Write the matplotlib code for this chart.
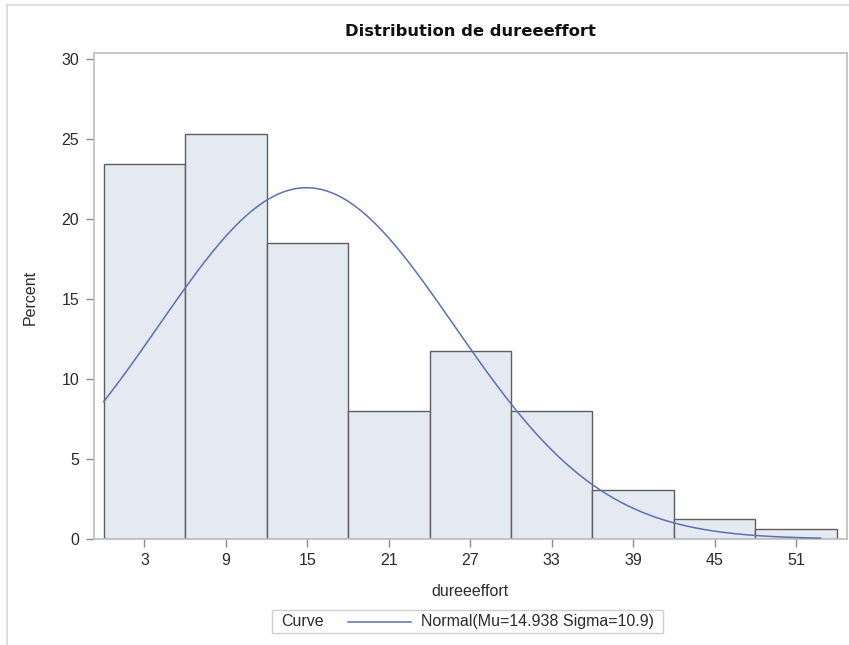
import numpy as np
import matplotlib
matplotlib.use("Agg")
import matplotlib.pyplot as plt
from matplotlib.patches import Rectangle
from matplotlib.lines import Line2D

# Histogram of dureeeffort (percent of observations per 6-unit bin)
bin_midpoints = [3, 9, 15, 21, 27, 33, 39, 45, 51]
percent = [23.46, 25.31, 18.52, 8.02, 11.73, 8.02, 3.09, 1.23, 0.62]
bin_width = 6

# Fitted normal curve parameters
mu = 14.938
sigma = 10.9
curve_start, curve_end = 0.0, 52.8

title = "Distribution de dureeeffort"
xlabel = "dureeeffort"
ylabel = "Percent"
yticks = [0, 5, 10, 15, 20, 25, 30]

plt.rcParams['font.family'] = ['Liberation Sans', 'DejaVu Sans']

W, H = 849, 645
fig = plt.figure(figsize=(W / 100, H / 100), dpi=100)

ax = fig.add_axes([93.5 / W, 1 - 539 / H, (847 - 93.5) / W, (539 - 53) / H])

bar_fill = "#E5E9F2"
bar_edge = "#5F5F5F"
curve_col = "#5A71B3"
frame_col = "#BDBDBD"
tick_col = "#8C8C8C"
text_col = "#2B2B2B"
fs = 11.5

ax.bar(bin_midpoints, percent, width=bin_width, color=bar_fill,
       edgecolor=bar_edge, linewidth=1.0, zorder=2)

xs = np.linspace(curve_start, curve_end, 300)
ys = 100 * bin_width * np.exp(-0.5 * ((xs - mu) / sigma) ** 2) / (sigma * np.sqrt(2 * np.pi))
ax.plot(xs, ys, color=curve_col, linewidth=1.1, zorder=3)

ax.set_xlim(-0.75, 54.75)
ax.set_ylim(0, 30.38)
ax.set_xticks(bin_midpoints)
ax.set_yticks(yticks)
ax.tick_params(axis="both", direction="out", length=5.8, width=1, color=tick_col,
               labelsize=fs, labelcolor=text_col, pad=4.5)
for s in ax.spines.values():
    s.set_color(frame_col)
    s.set_linewidth(1.2)

fig.text(470 / W, 1 - 31 / H, title, ha="center", va="center",
         fontsize=11.8, fontweight="bold", family="DejaVu Sans", color="#111111")
fig.text(470 / W, 1 - 591 / H, xlabel, ha="center", va="center",
         fontsize=fs, color=text_col)
fig.text(30 / W, 1 - 297 / H, ylabel, ha="center", va="center",
         rotation=90, fontsize=fs, color=text_col)

# Legend box
lx0, lx1, ly0, ly1 = 272, 663, 610, 633
fig.patches.append(Rectangle((lx0 / W, 1 - ly1 / H), (lx1 - lx0) / W, (ly1 - ly0) / H,
                             transform=fig.transFigure, facecolor="white",
                             edgecolor="#CFCFCF", linewidth=1.0))
ly = 1 - 621.5 / H
fig.text(281 / W, ly, "Curve", ha="left", va="center", fontsize=fs, color=text_col)
fig.lines.append(Line2D([348 / W, 411 / W], [ly, ly], transform=fig.transFigure,
                        color=curve_col, linewidth=1.1))
fig.text(421 / W, ly, f"Normal(Mu={mu} Sigma={sigma})", ha="left", va="center",
         fontsize=fs, color=text_col)

# Outer border on the left and top
fig.lines.append(Line2D([6.5 / W, 6.5 / W], [0, 1 - 5 / H], transform=fig.transFigure,
                        color="#D9D9D9", linewidth=1.2))
fig.lines.append(Line2D([6.5 / W, 1], [1 - 5 / H, 1 - 5 / H], transform=fig.transFigure,
                        color="#D9D9D9", linewidth=1.2))

fig.savefig("out.png", dpi=100)
